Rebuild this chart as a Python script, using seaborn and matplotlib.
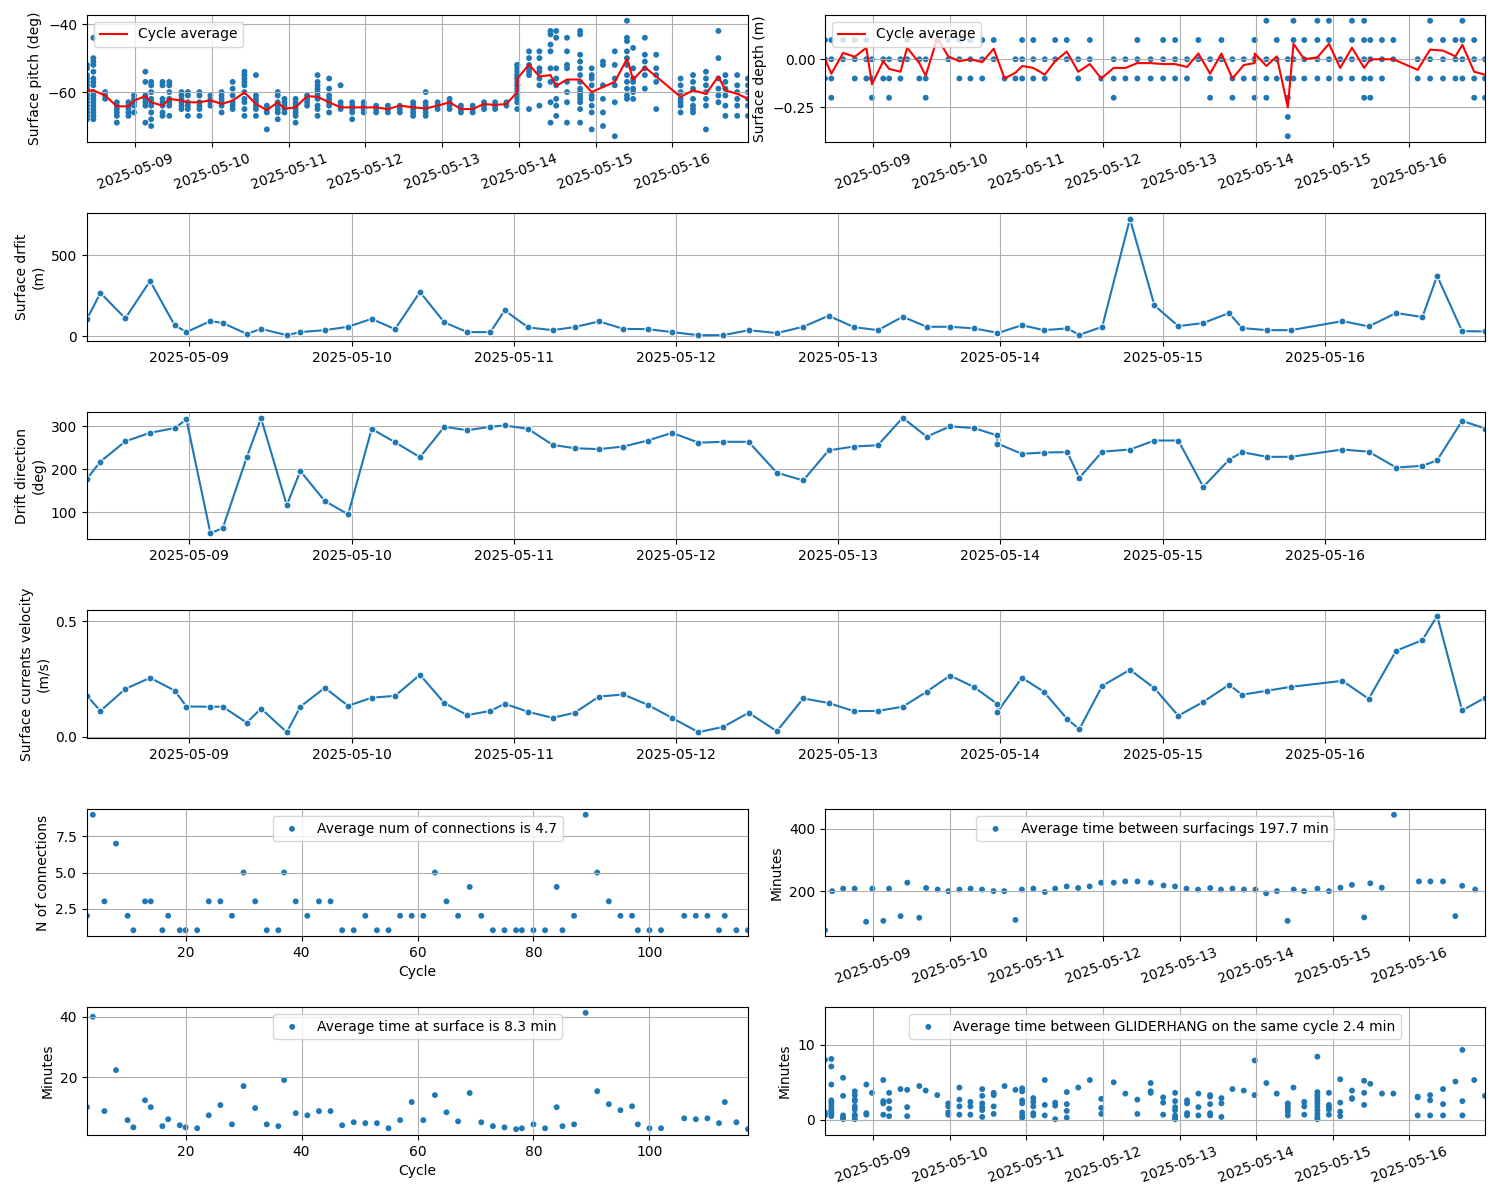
import numpy as np
import pandas as pd
import matplotlib
matplotlib.use("Agg")
import matplotlib.pyplot as plt
import matplotlib.dates as mdates
from matplotlib.ticker import MultipleLocator
import seaborn as sns

# ---------------- data (times in days since 2025-05-08 00:00) ----------------
surf_days = [0.369, 0.452, 0.605, 0.758, 0.909, 0.982, 1.130, 1.206, 1.354, 1.442,
             1.601, 1.684, 1.835, 1.979, 2.124, 2.268, 2.422, 2.572, 2.714, 2.856,
             2.944, 3.089, 3.239, 3.375, 3.526, 3.676, 3.827, 3.977, 4.139, 4.292,
             4.448, 4.622, 4.785, 4.941, 5.097, 5.245, 5.398, 5.546, 5.690, 5.838,
             5.979, 5.981, 6.133, 6.268, 6.413, 6.487, 6.628, 6.799, 6.950, 7.097,
             7.251, 7.410, 7.490, 7.643, 7.791, 8.109, 8.271, 8.440, 8.602, 8.693,
             8.847, 8.988]

surface_drift = [107, 267, 110, 341, 68, 25, 93, 81, 14, 45,
                 6, 25, 37, 58, 107, 43, 273, 85, 25, 25,
                 159, 54, 37, 56, 91, 45, 43, 25, 6, 6,
                 37, 19, 58, 126, 56, 37, 120, 58, 58, 48,
                 21, 18, 68, 37, 48, 8, 58, 725, 190, 62,
                 81, 143, 50, 37, 37, 93, 60, 143, 118, 372,
                 31, 29]

drift_direction = [178, 218, 265, 285, 296, 316, 51, 63, 228, 319,
                   116, 196, 126, 95, 294, 263, 228, 299, 291, 299,
                   302, 294, 257, 249, 247, 253, 267, 285, 262, 264,
                   264, 192, 174, 244, 253, 256, 320, 276, 300, 296,
                   279, 260, 236, 239, 240, 180, 241, 246, 267, 267,
                   159, 222, 240, 229, 229, 246, 241, 204, 208, 221,
                   313, 295]

current_velocity = [0.177, 0.112, 0.207, 0.255, 0.200, 0.131, 0.130, 0.130, 0.061, 0.122,
                    0.020, 0.130, 0.212, 0.134, 0.169, 0.177, 0.268, 0.146, 0.094, 0.112,
                    0.143, 0.108, 0.082, 0.104, 0.174, 0.183, 0.138, 0.081, 0.020, 0.043,
                    0.104, 0.024, 0.166, 0.146, 0.111, 0.112, 0.130, 0.195, 0.265, 0.215,
                    0.143, 0.107, 0.255, 0.195, 0.076, 0.033, 0.220, 0.290, 0.210, 0.091,
                    0.151, 0.225, 0.182, 0.199, 0.216, 0.242, 0.164, 0.372, 0.418, 0.523,
                    0.114, 0.169]

pitch_avg = [-59.5, -59.5, -61, -64.2, -64.2, -62.5, -61.2, -63, -64, -62,
             -62.5, -63, -63, -62.4, -63.5, -62.5, -60.1, -63.5, -65.3, -63,
             -64.9, -64.5, -61.2, -61.4, -63, -64.5, -64.5, -64.5, -64.5, -65,
             -64, -64.5, -64.8, -64, -63, -65, -65, -63.5, -63.8, -63.5,
             -60, -56, -51.9, -55.4, -55, -58.2, -56.3, -56.3, -60, -58.5,
             -57, -50.2, -56.3, -52.7, -55.4, -61.4, -59.5, -60.5, -55.4, -59.5,
             -60.5, -62]

pitch_points = [
    [-52, -53, -55, -56, -57, -58, -59, -60, -61, -62, -63, -64, -65, -66, -67, -68],
    [-44, -50, -51, -52, -54, -56, -57, -58, -60, -61, -62, -63, -64, -65, -66, -67, -68],
    [-60, -61, -62],
    [-63, -64, -65, -66, -67, -69],
    [-63, -64, -65, -66, -67],
    [-61, -62, -63, -64, -66],
    [-54, -57, -61, -62, -63, -64, -69],
    [-57, -58, -60, -62, -63, -64, -66, -68, -70],
    [-57, -58, -62, -63, -64, -66, -67],
    [-57, -58, -60, -62, -63, -64, -67],
    [-60, -61, -62, -63, -64, -65],
    [-60, -61, -63, -64, -65, -67],
    [-60, -61, -63, -64, -65, -67],
    [-61, -62, -63, -64],
    [-60, -61, -62, -63, -64, -66],
    [-57, -59, -61, -63, -64, -65],
    [-54, -55, -56, -57, -58, -60, -62, -63, -65, -67],
    [-55, -61, -62, -63, -64, -65, -67],
    [-64, -65, -66, -71],
    [-60, -61, -63, -64, -65, -66, -68],
    [-62, -63, -64, -65, -66],
    [-62, -63, -64, -65, -66, -67, -69],
    [-61, -62, -63, -64],
    [-55, -57, -58, -59, -60, -61, -62, -64, -65, -67],
    [-56, -59, -61, -62, -63, -64, -66],
    [-58, -63, -64, -65],
    [-63, -64, -65, -66, -68],
    [-63, -64, -65, -66],
    [-64, -65, -66],
    [-64, -65, -66],
    [-64, -65, -66],
    [-63, -64, -65, -66, -67],
    [-60, -63, -64, -65, -66, -67],
    [-63, -64, -65],
    [-62, -63, -64, -65],
    [-64, -65, -66],
    [-64, -65, -66],
    [-63, -64, -65],
    [-63, -64, -65],
    [-63, -64],
    [-52, -53, -54, -55, -56, -57, -58, -59, -60, -61, -62, -63, -65],
    [-52, -55, -56, -58, -60],
    [-48, -50, -52, -53, -54, -55, -65],
    [-48, -50, -53, -54, -56, -58, -64],
    [-42, -43, -46, -48, -53, -57, -63, -69],
    [-42, -44, -53, -56, -58, -62, -64, -67],
    [-44, -48, -52, -53, -57, -60, -63, -69],
    [-42, -43, -49, -51, -53, -55, -57, -59, -60, -61, -62, -63, -65, -69],
    [-53, -55, -56, -58, -61, -62, -64, -66, -71],
    [-51, -52, -58, -62, -66, -70],
    [-48, -52, -56, -58, -63, -73],
    [-39, -44, -45, -48, -50, -52, -55, -57, -59, -61, -62],
    [-47, -53, -56, -57, -59, -60, -62],
    [-44, -49, -51, -53, -55, -59],
    [-49, -53, -55, -57, -65],
    [-56, -58, -60, -62, -63, -64, -66],
    [-55, -57, -59, -62, -64, -65, -66],
    [-54, -56, -58, -60, -62, -64, -71],
    [-42, -50, -56, -59, -61, -63],
    [-55, -57, -59, -61, -64, -67],
    [-55, -58, -60, -62, -64, -67],
    [-56, -58, -60, -62, -64, -67],
]

depth_avg = [0.0, -0.075, 0.033, 0.013, 0.06, -0.13, -0.01, -0.05, -0.065, 0.06,
             -0.02, -0.085, 0.11, 0.015, -0.01, 0.0, -0.015, 0.055, -0.1, -0.07,
             -0.035, -0.045, -0.08, -0.01, 0.04, -0.065, -0.025, -0.1, -0.045, -0.045,
             -0.02, -0.02, -0.025, -0.025, -0.04, 0.03, -0.075, 0.03, -0.1, -0.03,
             -0.02, 0.03, -0.035, 0.015, -0.25, 0.08, 0.0, 0.01, 0.08, -0.045,
             0.06, -0.045, 0.0, 0.0, 0.0, -0.055, 0.05, 0.045, 0.015, 0.075,
             -0.065, -0.08]

depth_points = [
    [0.1, 0, -0.1], [0.1, 0, -0.1, -0.2], [0.1, 0], [0.1, 0, -0.1], [0.1, 0, -0.1],
    [0, -0.1, -0.2], [0, -0.1], [0, -0.1, -0.2], [0, -0.1], [0.1, 0],
    [0, -0.1], [0, -0.1, -0.2], [0.1], [0.1, 0], [0.1, 0, -0.1],
    [0.1, 0, -0.1], [0.1, 0, -0.1], [0.1, 0], [-0.1], [0, -0.1],
    [0.1, 0, -0.1], [0.1, 0, -0.1], [0, -0.1], [0.1, 0], [0.1, 0],
    [0, -0.1], [0.1, 0], [-0.1], [0, -0.1, -0.2], [0, -0.1],
    [0.1, 0, -0.1], [0, -0.1], [0.1, 0, -0.1], [0.1, 0, -0.1], [0, -0.1],
    [0.1, 0], [0, -0.1, -0.2], [0.1, 0], [0, -0.1, -0.2], [0, -0.1],
    [0.1, 0, -0.1, -0.2], [0.1, 0], [0.2, 0, -0.1, -0.2], [0.1, 0, -0.1],
    [0, -0.1, -0.2, -0.3, -0.4], [0.2, 0.1, 0, -0.1], [0.1, 0, -0.1],
    [0.2, 0.1, 0, -0.1], [0.2, 0.1, 0, -0.1], [0, -0.1], [0.2, 0.1, 0, -0.1],
    [0.2, 0.1, 0, -0.1, -0.2], [0.1, 0, -0.1, -0.2], [0.1, 0, -0.1], [0.1, 0],
    [0, -0.1], [0.2, 0.1, 0, -0.1], [0.1, 0, -0.1], [0.1, 0, -0.1],
    [0.2, 0.1, 0, -0.1], [0.1, 0, -0.1, -0.2], [0, -0.1, -0.2],
]

gliderhang_points = [
    [8.0, 1.0, 0.6], [8.1, 7.1, 4.7, 2.6, 2.3, 1.9, 1.5, 1.2, 1.0, 0.8, 0.5],
    [5.6, 3.2, 0.6, 0.3, 0.1], [3.8, 3.3, 2.7, 2.5, 1.8, 1.4, 0.7, 0.5, 0.1],
    [4.7, 0.9, 0.7], [3.6], [5.3, 2.5, 2.2, 0.7], [3.6, 2.5, 1.5, 0.5], [4.1],
    [4.0, 1.7, 0.5], [4.5], [3.9], [3.3], [2.2, 1.8, 1.0, 0.7], [4.3, 2.7, 1.8, 0.7],
    [2.4, 1.8, 0.7], [4.1, 3.2, 2.2, 1.7, 1.3, 0.4], [3.6, 3.3, 1.8, 0.8], [4.5], [4.0],
    [4.2, 3.8, 2.6, 2.2, 1.0, 0.6, 0.3], [2.9, 2.4, 1.8, 0.9, 0.6], [5.3, 2.0, 0.6],
    [2.3, 1.9, 0.1], [3.7, 2.1, 1.2, 0.3], [4.3], [5.3], [2.8, 1.6, 0.8], [5.0], [3.5],
    [2.7, 0.8], [4.9, 3.8, 3.6], [3.0, 2.3, 0.7], [3.6, 2.5, 1.7, 1.3, 0.6, 0.3, 0.1],
    [2.6, 2.2, 0.9, 0.6], [3.5, 1.7, 0.6], [3.3, 3.1, 2.1, 0.9, 0.6], [2.9, 2.2, 0.4],
    [4.1], [3.9], [3.3], [7.9], [4.9], [3.5], [2.2, 1.8, 1.5, 1.1, 0.6], [4.3],
    [2.4, 1.8, 0.7], [8.4, 3.7, 3.3, 3.0, 2.6, 2.2, 1.8, 1.3, 0.8, 0.4, 0.1],
    [3.6, 2.0, 1.7, 1.4, 0.7], [5.4, 2.3, 1.1, 0.5], [3.9, 2.9, 2.8], [5.2, 3.6, 2.0],
    [4.8], [3.5], [3.5], [3.1, 3.0, 0.6], [3.3, 2.6, 0.6], [4.1, 2.1, 0.6], [5.1],
    [9.3, 2.5, 0.6], [5.3], [3.2],
]

between_days = [0.369, 0.463, 0.606, 0.756, 0.906, 0.988, 1.131, 1.206, 1.356, 1.444,
                1.600, 1.690, 1.840, 1.980, 2.125, 2.270, 2.420, 2.570, 2.710, 2.856,
                2.940, 3.090, 3.240, 3.375, 3.525, 3.675, 3.825, 3.975, 4.140, 4.290,
                4.450, 4.625, 4.790, 4.940, 5.090, 5.240, 5.400, 5.540, 5.690, 5.840,
                5.990, 6.130, 6.270, 6.410, 6.490, 6.625, 6.800, 6.950, 7.100, 7.250,
                7.410, 7.490, 7.640, 7.800, 8.125, 8.275, 8.440, 8.600, 8.690, 8.860]
between_minutes = [75, 200, 208, 208, 102, 208, 105, 208, 120, 227,
                   115, 210, 205, 200, 205, 208, 205, 200, 200, 108,
                   205, 208, 197, 208, 215, 210, 215, 227, 227, 231,
                   231, 227, 218, 215, 208, 205, 210, 205, 208, 205,
                   205, 193, 200, 105, 205, 200, 208, 200, 211, 220,
                   116, 225, 211, 444, 231, 231, 231, 120, 217, 205]

cycles = [3, 4, 6, 8, 10, 11, 13, 14, 16, 17, 19, 20, 22, 24, 26, 28, 30, 32, 34, 36,
          37, 39, 41, 43, 45, 47, 49, 51, 53, 55, 57, 59, 61, 63, 65, 67, 69, 71, 73, 75,
          77, 78, 80, 82, 84, 85, 87, 89, 91, 93, 95, 97, 98, 100, 102, 106, 108, 110, 112, 113,
          115, 117]
n_connections = [2, 9, 3, 7, 2, 1, 3, 3, 1, 2, 1, 1, 1, 3, 3, 2, 5, 3, 1, 1,
                 5, 3, 2, 3, 3, 1, 1, 2, 1, 1, 2, 2, 2, 5, 3, 2, 4, 2, 1, 1,
                 1, 1, 1, 1, 4, 1, 2, 9, 5, 3, 2, 2, 1, 1, 1, 2, 2, 2, 1, 2,
                 1, 1]
time_at_surface = [10.0, 40.0, 8.7, 22.3, 5.7, 3.3, 12.3, 10.0, 3.7, 6.0, 4.0, 3.3, 3.0, 7.3, 10.7, 4.3, 17.0, 9.7, 4.3, 3.7,
                   19.0, 8.0, 7.3, 8.7, 8.7, 4.0, 5.0, 4.7, 4.7, 3.0, 5.7, 11.7, 5.7, 14.0, 8.3, 5.3, 14.7, 5.0, 3.7, 3.3,
                   2.7, 3.0, 4.3, 3.0, 10.0, 3.7, 4.3, 41.3, 15.3, 11.0, 9.0, 10.3, 4.3, 3.0, 3.0, 6.3, 6.0, 6.3, 4.7, 11.7,
                   5.0, 2.7]

label_connections = "Average num of connections is 4.7"
label_between = "Average time between surfacings 197.7 min"
label_surface = "Average time at surface is 8.3 min"
label_gliderhang = "Average time between GLIDERHANG on the same cycle 2.4 min"

# ---------------- helpers ----------------
BASE = pd.Timestamp("2025-05-08")


def to_dt(days):
    return BASE + pd.to_timedelta(np.asarray(days, dtype=float), unit="D")


def long_table(days, groups):
    rows = [(d, v) for d, vals in zip(days, groups) for v in vals]
    return pd.DataFrame(rows, columns=["days", "value"]).assign(time=lambda df: to_dt(df["days"]))


surf_t = to_dt(surf_days)
t0, t1 = surf_t[0], surf_t[-1]

fig = plt.figure(figsize=(15, 12), dpi=100)
W, H = 1500.0, 1200.0


def axes_px(x0, x1, y0, y1):
    return fig.add_axes([x0 / W, 1 - y1 / H, (x1 - x0) / W, (y1 - y0) / H])


def date_axis(ax, rotate):
    ax.set_xlim(t0, t1)
    ax.xaxis.set_major_locator(mdates.DayLocator())
    ax.xaxis.set_major_formatter(mdates.DateFormatter("%Y-%m-%d"))
    ax.set_xlabel("")
    if rotate:
        plt.setp(ax.get_xticklabels(), rotation=20, ha="center")
    ax.grid(True)


C0 = "#1f77b4"
DOT = dict(s=18, color=C0, edgecolor="none")

# ---- row 1: pitch ----
ax = axes_px(87, 748, 15, 142)
dfp = long_table(surf_days, pitch_points)
sns.scatterplot(data=dfp, x="time", y="value", ax=ax, **DOT)
sns.lineplot(x=surf_t, y=pitch_avg, color="red", label="Cycle average", ax=ax)
ax.legend(loc="upper left")
ax.set_ylabel("Surface pitch (deg)")
ax.yaxis.set_major_locator(MultipleLocator(20))
date_axis(ax, True)

# ---- row 1: depth ----
ax = axes_px(825, 1485, 15, 142)
dfd = long_table(surf_days, depth_points)
sns.scatterplot(data=dfd, x="time", y="value", ax=ax, **DOT)
sns.lineplot(x=surf_t, y=depth_avg, color="red", label="Cycle average", ax=ax)
ax.legend(loc="upper left")
ax.set_ylabel("Surface depth (m)")
ax.yaxis.set_major_locator(MultipleLocator(0.25))
date_axis(ax, True)

# ---- rows 2-4 ----
for (y0, y1), vals, lab, step in [((213, 341), surface_drift, "Surface drfit\n(m)", 500),
                                  ((412, 539), drift_direction, "Drift direction\n(deg)", 100),
                                  ((610, 738), current_velocity, "Surface currents velocity\n(m/s)", 0.5)]:
    ax = axes_px(87, 1485, y0, y1)
    sns.lineplot(x=surf_t, y=vals, marker="o", markersize=5, color=C0, ax=ax)
    ax.set_ylabel(lab)
    ax.yaxis.set_major_locator(MultipleLocator(step))
    date_axis(ax, False)

# ---- row 5 left: connections ----
ax = axes_px(87, 748, 809, 936)
sns.scatterplot(x=cycles, y=n_connections, label=label_connections, ax=ax, **DOT)
ax.legend(loc="upper center")
ax.set_xlim(cycles[0], cycles[-1])
ax.set_xlabel("Cycle")
ax.set_ylabel("N of connections")
ax.grid(True)

# ---- row 5 right: time between surfacings ----
ax = axes_px(825, 1485, 809, 936)
sns.scatterplot(x=to_dt(between_days), y=between_minutes, label=label_between, ax=ax, **DOT)
ax.legend(loc="upper center")
ax.set_ylabel("Minutes")
ax.yaxis.set_major_locator(MultipleLocator(200))
date_axis(ax, True)

# ---- row 6 left: time at surface ----
ax = axes_px(87, 748, 1007, 1135)
sns.scatterplot(x=cycles, y=time_at_surface, label=label_surface, ax=ax, **DOT)
ax.legend(loc="upper center")
ax.set_xlim(cycles[0], cycles[-1])
ax.set_xlabel("Cycle")
ax.set_ylabel("Minutes")
ax.yaxis.set_major_locator(MultipleLocator(20))
ax.grid(True)

# ---- row 6 right: GLIDERHANG ----
ax = axes_px(825, 1485, 1007, 1135)
dfg = long_table(surf_days, gliderhang_points)
sns.scatterplot(data=dfg, x="time", y="value", label=label_gliderhang, ax=ax, **DOT)
ax.legend(loc="upper center")
ax.set_ylim(-2, 15)
ax.yaxis.set_major_locator(MultipleLocator(10))
ax.set_ylabel("Minutes")
date_axis(ax, True)

fig.savefig("out.png", dpi=100)
